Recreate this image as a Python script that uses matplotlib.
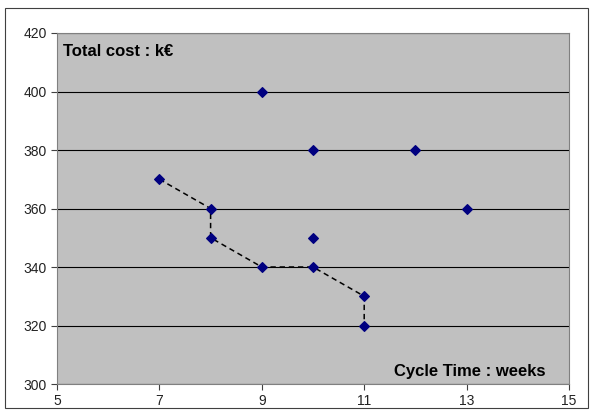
import matplotlib
matplotlib.use("Agg")
import matplotlib.pyplot as plt
from matplotlib.patches import Rectangle

plt.rcParams['font.family'] = ['Liberation Sans', 'DejaVu Sans']

# all solutions
cycle_time = [9, 10, 12, 13, 10, 7, 8, 8, 9, 10, 11, 11]
total_cost = [400, 380, 380, 360, 350, 370, 360, 350, 340, 340, 330, 320]

# pareto front (dashed)
front_time = [7, 8, 8, 9, 10, 11, 11]
front_cost = [370, 360, 350, 340, 340, 330, 320]

x_ticks = [5, 7, 9, 11, 13, 15]
y_ticks = [300, 320, 340, 360, 380, 400, 420]


def main():
    fig = plt.figure(figsize=(5.92, 4.13), dpi=100)
    fig.patches.append(Rectangle((5 / 592, 5 / 413), 583 / 592, 400 / 413,
                                 transform=fig.transFigure, fill=False,
                                 edgecolor="#404040", linewidth=0.8))
    ax = fig.add_axes([57 / 592, 29 / 413, 512 / 592, 351 / 413])
    ax.set_facecolor("#c0c0c0")

    ax.plot(front_time, front_cost, color="black", linestyle=(0, (3.5, 2.5)),
            linewidth=1.1, zorder=2)
    ax.scatter(cycle_time, total_cost, marker="D", s=24, color="#000080",
               zorder=3)

    ax.set_xlim(5, 15)
    ax.set_ylim(300, 420)
    ax.set_xticks(x_ticks)
    ax.set_yticks(y_ticks)
    ax.yaxis.grid(True, color="black", linewidth=0.8)
    ax.set_axisbelow(True)
    for s in ax.spines.values():
        s.set_color("#808080")
    ax.tick_params(direction="out", length=4, color="#404040",
                   labelsize=10, labelcolor="#222222")

    ax.text(0.012, 0.97, "Total cost : k€", transform=ax.transAxes,
            fontsize=12, fontweight="bold", va="top", ha="left")
    ax.text(0.955, 0.015, "Cycle Time : weeks", transform=ax.transAxes,
            fontsize=12, fontweight="bold", va="bottom", ha="right")

    fig.savefig("out.png", dpi=100)


if __name__ == '__main__':
    main()
